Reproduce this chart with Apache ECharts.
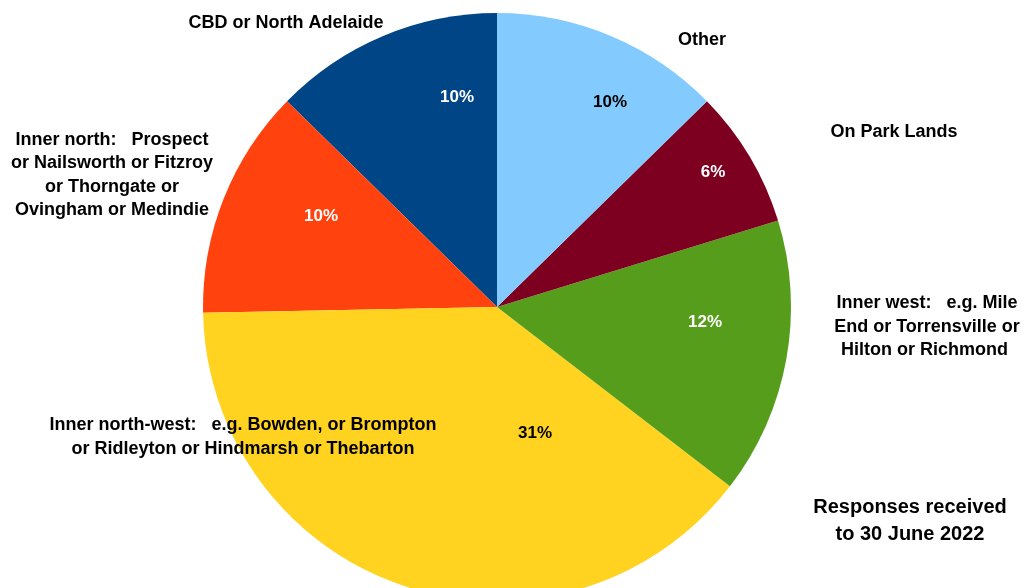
<!DOCTYPE html>
<html>
<head>
<meta charset="utf-8">
<title>Responses by area</title>
<script src="https://cdn.jsdelivr.net/npm/echarts@6/dist/echarts.min.js"></script>
<style>
  html, body { margin: 0; padding: 0; background: #fff; }
  #chart { width: 1028px; height: 588px; }
</style>
</head>
<body>
<div id="chart"></div>
<script>
// slices, counter-clockwise from 12 o'clock
const categories = [
  'CBD or North Adelaide',
  'Inner north:   Prospect\nor Nailsworth or Fitzroy\nor Thorngate or\nOvingham or Medindie',
  'Inner north-west:   e.g. Bowden, or Brompton\nor Ridleyton or Hindmarsh or Thebarton',
  'Inner west:   e.g. Mile\nEnd or Torrensville or\nHilton or Richmond ',
  'On Park Lands',
  'Other'
];
const shares = [10, 10, 31, 12, 6, 10];
const colors = ['#004586', '#ff420e', '#ffd320', '#579d1c', '#7e0021', '#83caff'];
const pctColors = ['#fff', '#fff', '#000', '#fff', '#fff', '#000'];
const note = 'Responses received\nto 30 June 2022';

const FONT = '"Liberation Sans", Arial, sans-serif';

// label anchors as laid out in the original chart
const namePos = [[286, 23], [112, 175], [243, 437], [927, 327], [894, 132], [702, 40]];
const pctPos = [[457, 97], [321, 216], [535, 433], [705, 322], [713, 172], [610, 102]];

const myChart = echarts.init(document.getElementById('chart'));

const pieBase = {
  type: 'pie',
  center: [497, 307],
  radius: 294,
  startAngle: 90,
  clockwise: false,
  avoidLabelOverlap: false,
  animation: false,
  labelLine: { show: false }
};

const option = {
  backgroundColor: '#fff',
  textStyle: { fontFamily: FONT },
  series: [
    Object.assign({}, pieBase, {
      name: 'areas',
      label: {
        show: true,
        position: 'outside',
        formatter: '{b}',
        fontFamily: FONT,
        fontSize: 18,
        fontWeight: 'bold',
        color: '#000',
        lineHeight: 23.5,
        align: 'center'
      },
      labelLayout: (p) => ({
        x: namePos[p.dataIndex][0],
        y: namePos[p.dataIndex][1],
        align: 'center',
        verticalAlign: 'middle'
      }),
      data: categories.map((name, i) => ({
        name: name,
        value: shares[i],
        itemStyle: { color: colors[i], borderWidth: 0 }
      }))
    }),
    Object.assign({}, pieBase, {
      name: 'percent',
      silent: true,
      label: {
        show: true,
        position: 'inside',
        formatter: '{c}%',
        fontFamily: FONT,
        fontSize: 17,
        fontWeight: 'bold'
      },
      labelLayout: (p) => ({
        x: pctPos[p.dataIndex][0],
        y: pctPos[p.dataIndex][1],
        align: 'center',
        verticalAlign: 'middle'
      }),
      data: categories.map((name, i) => ({
        name: name,
        value: shares[i],
        itemStyle: { color: 'rgba(0,0,0,0)', borderWidth: 0 },
        label: { color: pctColors[i] }
      }))
    })
  ],
  graphic: [
    {
      type: 'text',
      x: 910,
      y: 521,
      style: {
        text: note,
        align: 'center',
        verticalAlign: 'middle',
        fontFamily: FONT,
        fontSize: 20,
        fontWeight: 'bold',
        lineHeight: 27,
        fill: '#000'
      }
    }
  ]
};

myChart.setOption(option);
</script>
</body>
</html>
